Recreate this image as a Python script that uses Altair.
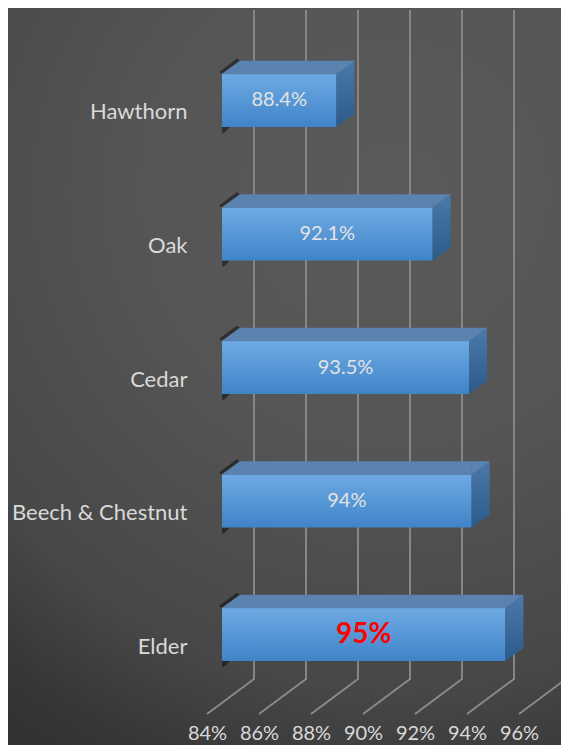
import altair as alt
import pandas as pd

# ---- data ----
CATEGORIES = ["Hawthorn", "Oak", "Cedar", "Beech & Chestnut", "Elder"]
VALUES = [88.4, 92.1, 93.5, 93.6, 94.9]
VALUE_LABELS = ["88.4%", "92.1%", "93.5%", "94%", "95%"]
HIGHLIGHT = "Elder"
TICKS = [84, 86, 88, 90, 92, 94, 96]
TICK_LABELS = ["84%", "86%", "88%", "90%", "92%", "94%", "96%"]

# ---- layout / style ----
W, H = 553, 737
X_RANGE = [199, 511]
Y_RANGE = [66, 653]
FLOOR_DX = 47
BAR_PLANE = 15
FONT = "Lato"
GRID = "#8c8c8c"
TOP = "#5a83b0"
TXT = "#d9d9d9"

bars = pd.DataFrame({"cat": CATEGORIES, "value": VALUES, "label": VALUE_LABELS})
ticks = pd.DataFrame({"t": TICKS})

xs = alt.Scale(domain=[TICKS[0], TICKS[-1]], range=X_RANGE, nice=False, zero=False)
ys = alt.Scale(domain=CATEGORIES, range=Y_RANGE, paddingInner=0.603, paddingOuter=0)

label_expr = ("[" + ",".join("'%s'" % s for s in TICK_LABELS) + "][indexof(["
              + ",".join(str(t) for t in TICKS) + "], datum.value)]")
xaxis = alt.Axis(values=TICKS, labelExpr=label_expr, title=None, grid=False, ticks=False,
                 tickSize=0, domain=False, labelPadding=0, labelBaseline="middle", offset=-12,
                 labelFont=FONT, labelFontSize=20, labelColor=TXT, labelFlush=False,
                 labelOverlap=False, orient="bottom", zindex=2)
yaxis = alt.Axis(title=None, ticks=False, tickSize=0, domain=False, grid=False, labelPadding=0,
                 offset=-179, labelAlign="right", labelBaseline="middle", labelOffset=12,
                 labelFont=FONT, labelFontSize=22, labelColor=TXT, labelLimit=300, orient="left",
                 zindex=2)

bg_grad = alt.RadialGradient(
    gradient="radial",
    stops=[alt.GradientStop(color="#5a5a5a", offset=0),
           alt.GradientStop(color="#555555", offset=0.35),
           alt.GradientStop(color="#474747", offset=0.68),
           alt.GradientStop(color="#363636", offset=0.83),
           alt.GradientStop(color="#2b2b2b", offset=1)],
    x1=0.65, y1=0.25, x2=0.65, y2=0.25, r1=0, r2=1.0)
front_grad = alt.LinearGradient(
    gradient="linear",
    stops=[alt.GradientStop(color="#6eaae4", offset=0),
           alt.GradientStop(color="#3f84c8", offset=1)],
    x1=0, x2=0, y1=0, y2=1)
side_grad = alt.LinearGradient(
    gradient="linear",
    stops=[alt.GradientStop(color="#4b79aa", offset=0),
           alt.GradientStop(color="#2c5a8b", offset=1)],
    x1=0, x2=0, y1=0, y2=1)

X = alt.X("value:Q", scale=xs, axis=xaxis)
Y = alt.Y("cat:N", scale=ys, axis=yaxis)
XB = alt.X("base:Q", scale=xs, axis=xaxis)

bg = alt.Chart(pd.DataFrame({"a": [0]})).mark_rect(fill=bg_grad).encode(
    x=alt.value(0), x2=alt.value(W), y=alt.value(0), y2=alt.value(H))

back_grid = alt.Chart(ticks).mark_rule(color=GRID, strokeWidth=1.8, xOffset=FLOOR_DX).encode(
    x=alt.X("t:Q", scale=xs, axis=xaxis), y=alt.value(2), y2=alt.value(672))

floor = alt.Chart(ticks).mark_rule(color=GRID, strokeWidth=1.8, x2Offset=FLOOR_DX).encode(
    x=alt.X("t:Q", scale=xs, axis=xaxis), x2="t:Q", y=alt.value(706), y2=alt.value(671))

base = alt.Chart(bars).transform_calculate(base=str(TICKS[0]))

shadow = base.mark_point(
    shape="M0,-26.5L-3,-28.5L15,-42L18,-39.5Z M0,26.5L8,26.5L3,31.5L0,33Z",
    size=4, filled=True, fill="#000000", opacity=0.45, strokeWidth=0, xOffset=BAR_PLANE
).encode(x=XB, y=Y)

front = base.mark_bar(fill=front_grad, xOffset=BAR_PLANE, x2Offset=BAR_PLANE).encode(
    x=X, x2="base:Q", y=Y)

top_mid = base.mark_bar(fill=TOP, stroke=TOP, strokeWidth=0.5, height=13, yOffset=-33,
                        xOffset=BAR_PLANE, x2Offset=BAR_PLANE + 18).encode(
    x=X, x2="base:Q", y=Y)

left_tri = base.mark_point(shape="M0,-26.5L18,-39.5L18,-26.5Z", size=4, filled=True,
                           fill=TOP, stroke=TOP, strokeWidth=0.5, opacity=1,
                           xOffset=BAR_PLANE).encode(x=XB, y=Y)

right_tri = base.mark_point(shape="M0,-26.5L0,-39.5L18,-39.5Z", size=4, filled=True,
                            fill=TOP, stroke=TOP, strokeWidth=0.5, opacity=1,
                            xOffset=BAR_PLANE).encode(x=X, y=Y)

side = base.mark_point(shape="M0,-26.5L18,-39.5L18,13.5L0,26.5Z", size=4, filled=True,
                       fill=side_grad, strokeWidth=0, opacity=1,
                       xOffset=BAR_PLANE).encode(x=X, y=Y)

txt = base.transform_calculate(mid="(datum.base + datum.value) / 2").transform_filter(
    alt.datum.cat != HIGHLIGHT).mark_text(
    font=FONT, fontSize=20, color="#e3e3e3", align="center", baseline="middle",
    xOffset=BAR_PLANE).encode(x=alt.X("mid:Q", scale=xs, axis=xaxis), y=Y, text="label:N")

txt_hi = base.transform_calculate(mid="(datum.base + datum.value) / 2").transform_filter(
    alt.datum.cat == HIGHLIGHT).mark_text(
    font=FONT, fontSize=28, fontWeight="bold", color="#ff0000", align="center",
    baseline="middle", xOffset=BAR_PLANE).encode(
    x=alt.X("mid:Q", scale=xs, axis=xaxis), y=Y, text="label:N")

chart = alt.layer(bg, back_grid, floor, shadow, front, top_mid, left_tri, right_tri, side,
                  txt, txt_hi).properties(
    width=W, height=H, padding=0, autosize=alt.AutoSizeParams(type="none"),
    background="#444444"
).configure_view(stroke=None).configure(font=FONT)

chart.save("out.html", embed_options={"renderer": "svg", "actions": False})
